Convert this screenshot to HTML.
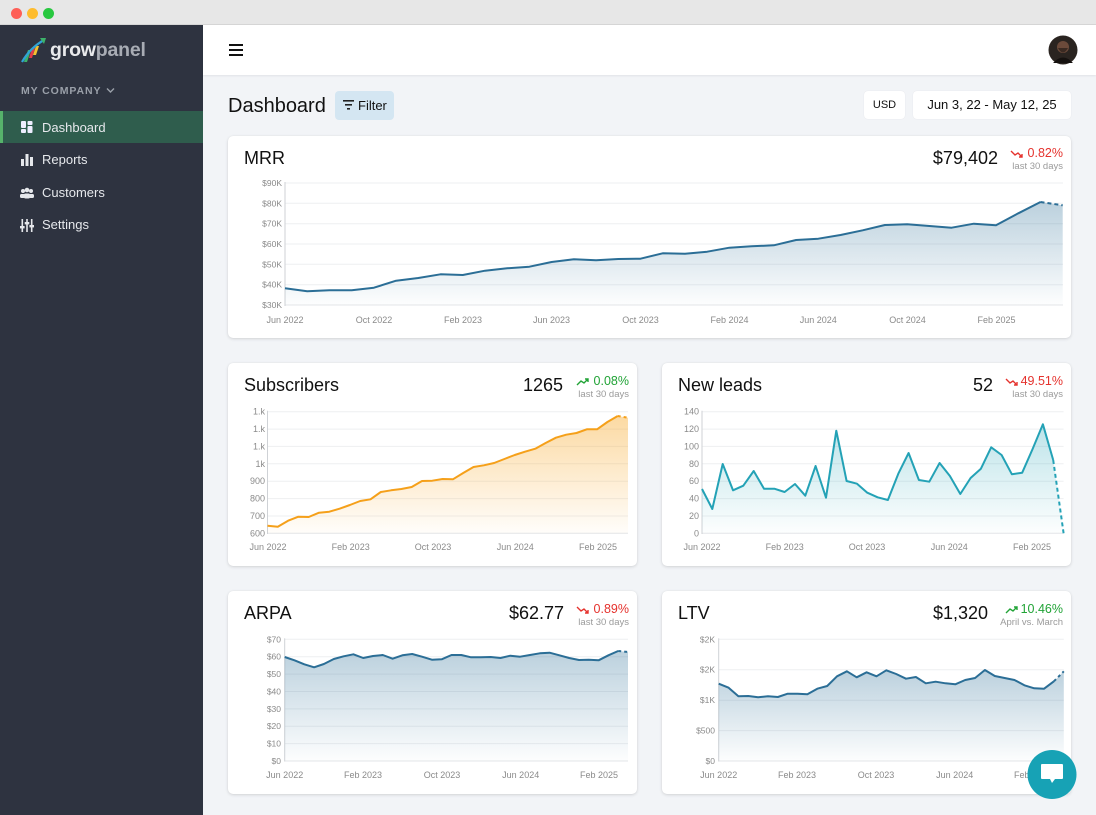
<!DOCTYPE html>
<html><head><meta charset="utf-8"><style>
*{box-sizing:border-box;margin:0;padding:0}
body{width:1096px;height:815px;overflow:hidden;background:#f2f4f7;font-family:"Liberation Sans",Arial,sans-serif;position:relative;color:#111}
.abs{position:absolute}
.card{position:absolute;background:#fff;border-radius:5px;box-shadow:0 1px 3px rgba(0,0,0,0.13),0 0 1px rgba(0,0,0,0.08)}
.ttl{position:absolute;font-size:18px;color:#111;line-height:20px}
.val{position:absolute;font-size:18px;color:#111;line-height:20px;text-align:right}
.pct{position:absolute;font-size:12.5px;line-height:14px;text-align:right;white-space:nowrap}
.sub{position:absolute;font-size:9.5px;color:#9a9a9a;line-height:11px;text-align:right;white-space:nowrap}
.nav{position:absolute;left:42px;font-size:13px;color:#e6e8ec;line-height:16px}
</style></head><body>
<!-- title bar -->
<div class="abs" style="left:0;top:0;width:1096px;height:25px;background:#e7e7e7;border-bottom:1px solid #d6d6d6"></div>
<div class="abs" style="left:10.5px;top:7.5px;width:11px;height:11px;border-radius:50%;background:#fe5f57"></div>
<div class="abs" style="left:26.5px;top:7.5px;width:11px;height:11px;border-radius:50%;background:#febc2e"></div>
<div class="abs" style="left:42.5px;top:7.5px;width:11px;height:11px;border-radius:50%;background:#28c840"></div>
<!-- sidebar -->
<div class="abs" style="left:0;top:25px;width:203px;height:790px;background:#2e3340"></div>
<svg class="abs" style="left:20px;top:36px" width="28" height="28" viewBox="0 0 28 28">
<polygon points="4,26 8,14 11,14 7,26" fill="#3db36b"/>
<polygon points="9,22 12,12 15,12 12,22" fill="#e23b4a"/>
<polygon points="13,19 16,10 19,10 16,19" fill="#f2c230"/>
<path d="M2 26 Q10 12 24 4" stroke="#2fa3d6" stroke-width="2.2" fill="none"/>
<polygon points="20,2 26,2 24,8" fill="#3db36b"/>
</svg>
<div class="abs" style="left:50px;top:38px;font-size:19.5px;font-weight:bold;line-height:24px;letter-spacing:-0.2px"><span style="color:#e9eaec">grow</span><span style="color:#a8acb4">panel</span></div>
<div class="abs" style="left:21px;top:85px;font-size:10.5px;font-weight:bold;letter-spacing:0.9px;color:#9aa0a9;line-height:12px">MY COMPANY</div>
<svg class="abs" style="left:106px;top:87px" width="9" height="7"><path d="M1 1.5 L4.5 5 L8 1.5" stroke="#9aa0a9" stroke-width="1.4" fill="none"/></svg>
<div class="abs" style="left:0;top:111px;width:203px;height:32px;background:#2f5d4d"></div>
<div class="abs" style="left:0;top:111px;width:3px;height:32px;background:#56b36b"></div>
<svg class="abs" style="left:21px;top:121px" width="12" height="12"><rect x="0" y="0" width="5" height="7" rx="1" fill="#eef"/><rect x="0" y="8" width="5" height="4" rx="1" fill="#eef"/><rect x="6.5" y="0" width="5" height="4" rx="1" fill="#eef"/><rect x="6.5" y="5" width="5" height="7" rx="1" fill="#eef"/></svg>
<div class="nav" style="top:120px">Dashboard</div>
<svg class="abs" style="left:21px;top:154px" width="12" height="12"><rect x="0" y="5" width="3" height="7" fill="#e6e8ec"/><rect x="4.5" y="0" width="3" height="12" fill="#e6e8ec"/><rect x="9" y="3" width="3" height="9" fill="#e6e8ec"/></svg>
<div class="nav" style="top:152px">Reports</div>
<svg class="abs" style="left:20px;top:187px" width="14" height="12"><circle cx="3" cy="4" r="2" fill="#e6e8ec"/><circle cx="7" cy="3" r="2.3" fill="#e6e8ec"/><circle cx="11" cy="4" r="2" fill="#e6e8ec"/><rect x="0" y="7" width="5" height="4" rx="1.5" fill="#e6e8ec"/><rect x="4" y="6.5" width="6" height="5" rx="1.5" fill="#e6e8ec"/><rect x="9" y="7" width="5" height="4" rx="1.5" fill="#e6e8ec"/></svg>
<div class="nav" style="top:185px">Customers</div>
<svg class="abs" style="left:20px;top:219px" width="14" height="13"><rect x="1.5" y="0" width="1.6" height="13" fill="#e6e8ec"/><rect x="6.2" y="0" width="1.6" height="13" fill="#e6e8ec"/><rect x="10.9" y="0" width="1.6" height="13" fill="#e6e8ec"/><rect x="0" y="7" width="4.6" height="2.4" fill="#e6e8ec"/><rect x="4.7" y="3" width="4.6" height="2.4" fill="#e6e8ec"/><rect x="9.4" y="6" width="4.6" height="2.4" fill="#e6e8ec"/></svg>
<div class="nav" style="top:217px">Settings</div>
<!-- header -->
<div class="abs" style="left:203px;top:25px;width:893px;height:50px;background:#fff;box-shadow:0 1px 2px rgba(0,0,0,0.07)"></div>
<div class="abs" style="left:229px;top:44px;width:14px;height:2px;background:#111"></div>
<div class="abs" style="left:229px;top:49px;width:14px;height:2px;background:#111"></div>
<div class="abs" style="left:229px;top:54px;width:14px;height:2px;background:#111"></div>
<svg class="abs" style="left:1048px;top:35px" width="30" height="30"><circle cx="15" cy="15" r="14.5" fill="#2a2420"/><circle cx="15" cy="12" r="6" fill="#6b4a3a"/><path d="M5 28 Q15 17 25 28Z" fill="#15110f"/><path d="M10 13 Q15 22 20 13" fill="#3a2a22"/></svg>
<!-- toolbar -->
<div class="abs" style="left:228px;top:94px;font-size:20px;line-height:24px;color:#111">Dashboard</div>
<div class="abs" style="left:335px;top:91px;width:59px;height:29px;background:#d4e6f2;border-radius:4px"></div>
<svg class="abs" style="left:343px;top:100px" width="12" height="10"><rect x="0" y="0" width="11" height="1.6" fill="#222"/><rect x="2" y="4" width="7" height="1.6" fill="#222"/><rect x="4" y="8" width="3" height="1.6" fill="#222"/></svg>
<div class="abs" style="left:358px;top:98px;font-size:13px;line-height:15px;color:#111">Filter</div>
<div class="abs" style="left:864px;top:91px;width:41px;height:28px;background:#fff;border-radius:4px;box-shadow:0 0 1px rgba(0,0,0,0.1);font-size:11px;line-height:28px;text-align:center;color:#111">USD</div>
<div class="abs" style="left:913px;top:91px;width:158px;height:28px;background:#fff;border-radius:4px;box-shadow:0 0 1px rgba(0,0,0,0.1);font-size:13px;line-height:28px;text-align:center;color:#111">Jun 3, 22 - May 12, 25</div>
<!-- cards -->
<div class="card" style="left:228px;top:136px;width:843px;height:202px"></div>
<div class="card" style="left:228px;top:363px;width:409px;height:203px"></div>
<div class="card" style="left:662px;top:363px;width:409px;height:203px"></div>
<div class="card" style="left:228px;top:591px;width:409px;height:203px"></div>
<div class="card" style="left:662px;top:591px;width:409px;height:203px"></div>
<!-- card headers -->
<div class="ttl" style="left:244px;top:148px">MRR</div>
<div class="val" style="left:880px;top:148px;width:118px">$79,402</div>
<div class="pct" style="left:990px;top:146px;width:73px;color:#e5322d">0.82%</div>
<div class="sub" style="left:990px;top:161px;width:73px">last 30 days</div>

<div class="ttl" style="left:244px;top:375px">Subscribers</div>
<div class="val" style="left:480px;top:375px;width:83px">1265</div>
<div class="pct" style="left:560px;top:374px;width:69px;color:#21a336">0.08%</div>
<div class="sub" style="left:560px;top:389px;width:69px">last 30 days</div>

<div class="ttl" style="left:678px;top:375px">New leads</div>
<div class="val" style="left:900px;top:375px;width:93px">52</div>
<div class="pct" style="left:990px;top:374px;width:73px;color:#e5322d">49.51%</div>
<div class="sub" style="left:990px;top:389px;width:73px">last 30 days</div>

<div class="ttl" style="left:244px;top:603px">ARPA</div>
<div class="val" style="left:460px;top:603px;width:104px">$62.77</div>
<div class="pct" style="left:560px;top:602px;width:69px;color:#e5322d">0.89%</div>
<div class="sub" style="left:560px;top:617px;width:69px">last 30 days</div>

<div class="ttl" style="left:678px;top:603px">LTV</div>
<div class="val" style="left:880px;top:603px;width:108px">$1,320</div>
<div class="pct" style="left:990px;top:602px;width:73px;color:#21a336">10.46%</div>
<div class="sub" style="left:990px;top:617px;width:73px">April vs. March</div>

<svg class="abs" style="left:0;top:0" width="1096" height="815" viewBox="0 0 1096 815" font-family="Liberation Sans, Arial, sans-serif">
<defs>
<linearGradient id="gb" x1="0" y1="0" x2="0" y2="1"><stop offset="0" stop-color="#2b6e96" stop-opacity="0.32"/><stop offset="1" stop-color="#2b6e96" stop-opacity="0.01"/></linearGradient>
<linearGradient id="go" x1="0" y1="0" x2="0" y2="1"><stop offset="0" stop-color="#f7a623" stop-opacity="0.42"/><stop offset="1" stop-color="#f7a623" stop-opacity="0.02"/></linearGradient>
<linearGradient id="gt" x1="0" y1="0" x2="0" y2="1"><stop offset="0" stop-color="#22a3b6" stop-opacity="0.3"/><stop offset="1" stop-color="#22a3b6" stop-opacity="0.01"/></linearGradient>
</defs>
<!-- arrows -->
<g fill="none" stroke-width="1.4">
<path d="M1011 151 L1015 155 L1018 153 L1022 157 M1019 157 L1022 157 L1022 154" stroke="#e5322d"/>
<path d="M577 385 L581 381 L584 383 L588 379 M585 379 L588 379 L588 382" stroke="#21a336"/>
<path d="M1006 379 L1010 383 L1013 381 L1017 385 M1014 385 L1017 385 L1017 382" stroke="#e5322d"/>
<path d="M577 607 L581 611 L584 609 L588 613 M585 613 L588 613 L588 610" stroke="#e5322d"/>
<path d="M1006 613 L1010 609 L1013 611 L1017 607 M1014 607 L1017 607 L1017 610" stroke="#21a336"/>
</g>
<!-- MRR -->
<g stroke="#eeeff1" stroke-width="1">
<line x1="285" y1="183" x2="1063" y2="183"/><line x1="285" y1="203.3" x2="1063" y2="203.3"/><line x1="285" y1="223.7" x2="1063" y2="223.7"/><line x1="285" y1="244" x2="1063" y2="244"/><line x1="285" y1="264.3" x2="1063" y2="264.3"/><line x1="285" y1="284.7" x2="1063" y2="284.7"/>
</g>
<line x1="285" y1="305" x2="1063" y2="305" stroke="#e3e5e8"/>
<line x1="285" y1="182" x2="285" y2="306" stroke="#cfd2d6"/>
<g font-size="8.5" fill="#8a8a8a" text-anchor="end">
<text x="282" y="186">$90K</text><text x="282" y="206.3">$80K</text><text x="282" y="226.7">$70K</text><text x="282" y="247">$60K</text><text x="282" y="267.3">$50K</text><text x="282" y="287.7">$40K</text><text x="282" y="308">$30K</text>
</g>
<g font-size="9" fill="#8a8a8a" text-anchor="middle">
<text x="285" y="323">Jun 2022</text><text x="374" y="323">Oct 2022</text><text x="463" y="323">Feb 2023</text><text x="551.5" y="323">Jun 2023</text><text x="640.5" y="323">Oct 2023</text><text x="729.5" y="323">Feb 2024</text><text x="818.3" y="323">Jun 2024</text><text x="907.5" y="323">Oct 2024</text><text x="996.5" y="323">Feb 2025</text>
</g>
<path d="M285,288.3 307.2,291.3 329.4,290.3 351.7,290.3 373.9,287.7 396.1,280.7 418.3,278 440.5,274.3 462.8,275 485,270.7 507.2,268.3 529.4,266.7 551.6,262 573.9,259.3 596.1,260.3 618.3,259 640.5,258.7 662.7,253.3 685,253.7 707.2,251.7 729.4,247.7 751.6,246.3 773.8,245.3 796.1,240 818.3,238.7 840.5,235 862.7,230.3 884.9,225 907.2,224.3 929.4,226 951.6,227.7 973.8,223.7 996,225.3 1018.3,213.3 1040.5,202 1062.7,205.3 L1062.7,305 L285,305Z" fill="url(#gb)"/>
<polyline points="285,288.3 307.2,291.3 329.4,290.3 351.7,290.3 373.9,287.7 396.1,280.7 418.3,278 440.5,274.3 462.8,275 485,270.7 507.2,268.3 529.4,266.7 551.6,262 573.9,259.3 596.1,260.3 618.3,259 640.5,258.7 662.7,253.3 685,253.7 707.2,251.7 729.4,247.7 751.6,246.3 773.8,245.3 796.1,240 818.3,238.7 840.5,235 862.7,230.3 884.9,225 907.2,224.3 929.4,226 951.6,227.7 973.8,223.7 996,225.3 1018.3,213.3 1040.5,202" fill="none" stroke="#2b6e96" stroke-width="2" stroke-linejoin="round"/>
<line x1="1040.5" y1="202" x2="1062.7" y2="205.3" stroke="#2b6e96" stroke-width="2" stroke-dasharray="4,3"/>
<!-- Subscribers -->
<g stroke="#eeeff1"><line x1="267.5" y1="411.7" x2="628" y2="411.7"/><line x1="267.5" y1="429.1" x2="628" y2="429.1"/><line x1="267.5" y1="446.4" x2="628" y2="446.4"/><line x1="267.5" y1="463.8" x2="628" y2="463.8"/><line x1="267.5" y1="481.2" x2="628" y2="481.2"/><line x1="267.5" y1="498.6" x2="628" y2="498.6"/><line x1="267.5" y1="516" x2="628" y2="516"/></g>
<line x1="267.5" y1="533.3" x2="628" y2="533.3" stroke="#e3e5e8"/>
<line x1="267.5" y1="410.7" x2="267.5" y2="534" stroke="#cfd2d6"/>
<g font-size="9" fill="#8a8a8a" text-anchor="end">
<text x="265" y="414.7">1.k</text><text x="265" y="432.1">1.k</text><text x="265" y="449.4">1.k</text><text x="265" y="466.8">1k</text><text x="265" y="484.2">900</text><text x="265" y="501.6">800</text><text x="265" y="519">700</text><text x="265" y="536.3">600</text>
</g>
<g font-size="9" fill="#8a8a8a" text-anchor="middle">
<text x="268" y="550">Jun 2022</text><text x="350.7" y="550">Feb 2023</text><text x="433" y="550">Oct 2023</text><text x="515.3" y="550">Jun 2024</text><text x="598" y="550">Feb 2025</text>
</g>
<path d="M267.5,525.7 277.8,526.7 288.1,520.7 298.4,516.7 308.7,517 319,512.7 329.3,511.7 339.6,508.7 349.9,505 360.2,501 370.5,499.3 380.8,492 391.1,490.3 401.4,489 411.7,487 422,481 432.3,480.7 442.6,479 452.9,479.3 463.2,473 473.5,467 483.8,465.3 494.1,463 504.4,459 514.7,455 525,451.7 535.3,448.7 545.6,443 555.9,437.7 566.2,434.7 576.5,433 586.8,429.3 597.1,429.3 607.4,422 617.7,416 628,417.7 L628,533.3 L267.5,533.3Z" fill="url(#go)"/>
<polyline points="267.5,525.7 277.8,526.7 288.1,520.7 298.4,516.7 308.7,517 319,512.7 329.3,511.7 339.6,508.7 349.9,505 360.2,501 370.5,499.3 380.8,492 391.1,490.3 401.4,489 411.7,487 422,481 432.3,480.7 442.6,479 452.9,479.3 463.2,473 473.5,467 483.8,465.3 494.1,463 504.4,459 514.7,455 525,451.7 535.3,448.7 545.6,443 555.9,437.7 566.2,434.7 576.5,433 586.8,429.3 597.1,429.3 607.4,422 617.7,416" fill="none" stroke="#f5a01a" stroke-width="2" stroke-linejoin="round"/>
<line x1="617.7" y1="416" x2="628" y2="417.7" stroke="#f5a01a" stroke-width="2" stroke-dasharray="3,3"/>
<!-- New leads -->
<g stroke="#eeeff1"><line x1="702" y1="411.7" x2="1063.6" y2="411.7"/><line x1="702" y1="429.1" x2="1063.6" y2="429.1"/><line x1="702" y1="446.4" x2="1063.6" y2="446.4"/><line x1="702" y1="463.8" x2="1063.6" y2="463.8"/><line x1="702" y1="481.2" x2="1063.6" y2="481.2"/><line x1="702" y1="498.6" x2="1063.6" y2="498.6"/><line x1="702" y1="516" x2="1063.6" y2="516"/></g>
<line x1="702" y1="533.3" x2="1063.6" y2="533.3" stroke="#e3e5e8"/>
<line x1="702" y1="410.7" x2="702" y2="534" stroke="#cfd2d6"/>
<g font-size="9" fill="#8a8a8a" text-anchor="end">
<text x="699" y="414.7">140</text><text x="699" y="432.1">120</text><text x="699" y="449.4">100</text><text x="699" y="466.8">80</text><text x="699" y="484.2">60</text><text x="699" y="501.6">40</text><text x="699" y="519">20</text><text x="699" y="536.3">0</text>
</g>
<g font-size="9" fill="#8a8a8a" text-anchor="middle">
<text x="702" y="550">Jun 2022</text><text x="784.7" y="550">Feb 2023</text><text x="867" y="550">Oct 2023</text><text x="949.3" y="550">Jun 2024</text><text x="1032" y="550">Feb 2025</text>
</g>
<path d="M702,489 712.3,509 722.7,464 733,490.3 743.3,485.7 753.7,471 764,488.7 774.3,488.7 784.6,492 795,484 805.3,495.7 815.6,466 826,497.7 836.3,430.7 846.6,481 857,483.7 867.3,492.7 877.6,497.3 887.9,500 898.3,473.7 908.6,453 918.9,480 929.3,481.7 939.6,463 949.9,476 960.3,494 970.6,478 980.9,468.7 991.2,447.3 1001.6,455 1011.9,474.3 1022.2,472.7 1032.6,449 1042.9,424.3 1053.2,460 1063.6,533.3 L702,533.3Z" fill="url(#gt)"/>
<polyline points="702,489 712.3,509 722.7,464 733,490.3 743.3,485.7 753.7,471 764,488.7 774.3,488.7 784.6,492 795,484 805.3,495.7 815.6,466 826,497.7 836.3,430.7 846.6,481 857,483.7 867.3,492.7 877.6,497.3 887.9,500 898.3,473.7 908.6,453 918.9,480 929.3,481.7 939.6,463 949.9,476 960.3,494 970.6,478 980.9,468.7 991.2,447.3 1001.6,455 1011.9,474.3 1022.2,472.7 1032.6,449 1042.9,424.3 1053.2,460" fill="none" stroke="#24a2b6" stroke-width="2" stroke-linejoin="round"/>
<line x1="1053.2" y1="460" x2="1063.6" y2="533.3" stroke="#24a2b6" stroke-width="2" stroke-dasharray="4,3"/>
<!-- ARPA -->
<g stroke="#eeeff1"><line x1="284.7" y1="639.3" x2="628" y2="639.3"/><line x1="284.7" y1="656.7" x2="628" y2="656.7"/><line x1="284.7" y1="674.1" x2="628" y2="674.1"/><line x1="284.7" y1="691.5" x2="628" y2="691.5"/><line x1="284.7" y1="708.9" x2="628" y2="708.9"/><line x1="284.7" y1="726.2" x2="628" y2="726.2"/><line x1="284.7" y1="743.6" x2="628" y2="743.6"/></g>
<line x1="284.7" y1="761" x2="628" y2="761" stroke="#e3e5e8"/>
<line x1="284.7" y1="638.3" x2="284.7" y2="761.5" stroke="#cfd2d6"/>
<g font-size="8.5" fill="#8a8a8a" text-anchor="end">
<text x="281" y="642.3">$70</text><text x="281" y="659.7">$60</text><text x="281" y="677.1">$50</text><text x="281" y="694.5">$40</text><text x="281" y="711.9">$30</text><text x="281" y="729.2">$20</text><text x="281" y="746.6">$10</text><text x="281" y="764">$0</text>
</g>
<g font-size="9" fill="#8a8a8a" text-anchor="middle">
<text x="284.7" y="778">Jun 2022</text><text x="363" y="778">Feb 2023</text><text x="442" y="778">Oct 2023</text><text x="520.7" y="778">Jun 2024</text><text x="599" y="778">Feb 2025</text>
</g>
<path d="M284.7,657 294.5,660.3 304.3,664.3 314.1,667.3 323.9,664 333.8,659 343.6,656.3 353.4,654.3 363.2,658 373,656 382.8,655 392.6,658.7 402.4,655.3 412.2,654 422,656.7 431.9,659.7 441.7,659.3 451.5,655 461.3,655 471.1,657.3 480.9,657.3 490.7,657 500.5,658 510.3,655.7 520.1,656.7 530,655 539.8,653.3 549.6,652.7 559.4,655.3 569.2,658 579,660 588.8,659.7 598.6,660.3 608.4,655.3 618.2,651 628,652 L628,761 L284.7,761Z" fill="url(#gb)"/>
<polyline points="284.7,657 294.5,660.3 304.3,664.3 314.1,667.3 323.9,664 333.8,659 343.6,656.3 353.4,654.3 363.2,658 373,656 382.8,655 392.6,658.7 402.4,655.3 412.2,654 422,656.7 431.9,659.7 441.7,659.3 451.5,655 461.3,655 471.1,657.3 480.9,657.3 490.7,657 500.5,658 510.3,655.7 520.1,656.7 530,655 539.8,653.3 549.6,652.7 559.4,655.3 569.2,658 579,660 588.8,659.7 598.6,660.3 608.4,655.3 618.2,651" fill="none" stroke="#2b6e96" stroke-width="2" stroke-linejoin="round"/>
<line x1="618.2" y1="651" x2="628" y2="652" stroke="#2b6e96" stroke-width="2" stroke-dasharray="3,3"/>
<!-- LTV -->
<g stroke="#eeeff1"><line x1="718.7" y1="639.3" x2="1063.8" y2="639.3"/><line x1="718.7" y1="669.7" x2="1063.8" y2="669.7"/><line x1="718.7" y1="700.2" x2="1063.8" y2="700.2"/><line x1="718.7" y1="730.6" x2="1063.8" y2="730.6"/></g>
<line x1="718.7" y1="761" x2="1063.8" y2="761" stroke="#e3e5e8"/>
<line x1="718.7" y1="638.3" x2="718.7" y2="761.5" stroke="#cfd2d6"/>
<g font-size="8.5" fill="#8a8a8a" text-anchor="end">
<text x="715" y="642.3">$2K</text><text x="715" y="672.7">$2K</text><text x="715" y="703.2">$1K</text><text x="715" y="733.6">$500</text><text x="715" y="764">$0</text>
</g>
<g font-size="9" fill="#8a8a8a" text-anchor="middle">
<text x="718.7" y="778">Jun 2022</text><text x="797" y="778">Feb 2023</text><text x="876" y="778">Oct 2023</text><text x="954.7" y="778">Jun 2024</text><text x="1033" y="778">Feb 2025</text>
</g>
<path d="M718.7,683.7 728.6,687.7 738.4,696.3 748.3,696 758.1,697.3 768,696.3 777.9,697 787.7,693.7 797.6,693.7 807.4,694.3 817.3,688.7 827.2,686 837,676.3 846.9,671.3 856.7,677.3 866.6,672.3 876.5,676.3 886.3,670.3 896.2,674 906,678.7 915.9,677 925.8,683.3 935.6,681.7 945.5,683.3 955.3,684.3 965.2,680 975.1,678 984.9,670 994.8,676 1004.6,678 1014.5,680 1024.4,685.3 1034.2,688.3 1044.1,688.7 1053.9,681.3 1063.8,671.3 L1063.8,761 L718.7,761Z" fill="url(#gb)"/>
<polyline points="718.7,683.7 728.6,687.7 738.4,696.3 748.3,696 758.1,697.3 768,696.3 777.9,697 787.7,693.7 797.6,693.7 807.4,694.3 817.3,688.7 827.2,686 837,676.3 846.9,671.3 856.7,677.3 866.6,672.3 876.5,676.3 886.3,670.3 896.2,674 906,678.7 915.9,677 925.8,683.3 935.6,681.7 945.5,683.3 955.3,684.3 965.2,680 975.1,678 984.9,670 994.8,676 1004.6,678 1014.5,680 1024.4,685.3 1034.2,688.3 1044.1,688.7 1053.9,681.3" fill="none" stroke="#2b6e96" stroke-width="2" stroke-linejoin="round"/>
<line x1="1053.9" y1="681.3" x2="1063.8" y2="671.3" stroke="#2b6e96" stroke-width="2" stroke-dasharray="3,3"/>
<!-- chat button -->
<circle cx="1052" cy="774.5" r="24.5" fill="#17a2b5"/>
<path d="M1041 765 q0 -1 1 -1 h20 q1 0 1 1 v13 q0 1 -1 1 h-7 l-3 4 l-2 -4 h-8 q-1 0 -1 -1Z" fill="#fff"/>
</svg>
</body></html>
